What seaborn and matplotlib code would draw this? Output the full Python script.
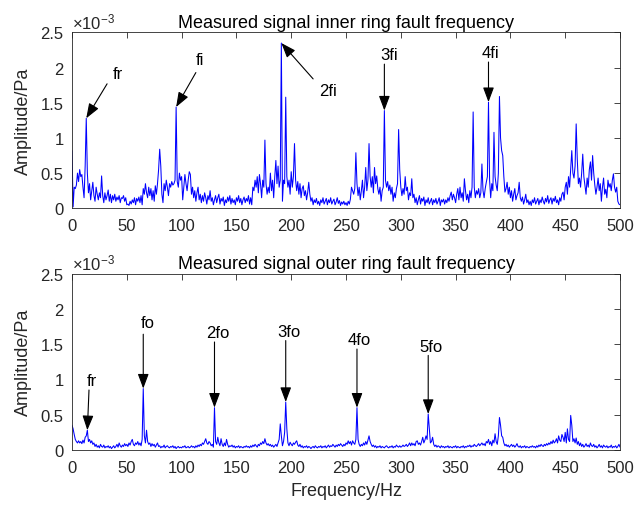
import numpy as np
import pandas as pd
import matplotlib
matplotlib.use("Agg")
import matplotlib.pyplot as plt
from matplotlib.ticker import FuncFormatter, MultipleLocator
import seaborn as sns

# Frequency bins (Hz) of the amplitude spectra
freq = np.arange(0, 501, 1)

# Inner ring fault spectrum, amplitude in 1e-3 Pa (one value per 1 Hz bin)
inner_amp = [
    0.82, 0.02, 0.30, 0.28, 0.33, 0.50, 0.38, 0.55, 0.45, 0.48,
    0.30, 0.15, 0.60, 1.28, 0.50, 0.22, 0.35, 0.12, 0.25, 0.37,
    0.18, 0.10, 0.30, 0.20, 0.12, 0.22, 0.15, 0.46, 0.18, 0.08,
    0.22, 0.12, 0.18, 0.26, 0.10, 0.20, 0.08, 0.18, 0.12, 0.20,
    0.10, 0.16, 0.12, 0.18, 0.08, 0.15, 0.14, 0.18, 0.10, 0.15,
    0.05, 0.06, 0.04, 0.10, 0.06, 0.12, 0.08, 0.15, 0.05, 0.14,
    0.10, 0.16, 0.08, 0.18, 0.05, 0.28, 0.20, 0.35, 0.22, 0.15,
    0.30, 0.18, 0.28, 0.12, 0.25, 0.10, 0.32, 0.20, 0.35, 0.55,
    0.84, 0.60, 0.20, 0.08, 0.35, 0.25, 0.40, 0.30, 0.18, 0.35,
    0.30, 0.38, 0.33, 0.35, 0.40, 1.44, 0.38, 0.30, 0.50, 0.40,
    0.45, 0.12, 0.30, 0.48, 0.35, 0.25, 0.40, 0.52, 0.48, 0.20,
    0.30, 0.15, 0.25, 0.10, 0.22, 0.30, 0.12, 0.20, 0.08, 0.18,
    0.10, 0.22, 0.15, 0.06, 0.18, 0.12, 0.25, 0.10, 0.15, 0.05,
    0.12, 0.18, 0.08, 0.15, 0.20, 0.06, 0.14, 0.10, 0.16, 0.04,
    0.12, 0.08, 0.16, 0.10, 0.18, 0.06, 0.14, 0.08, 0.12, 0.05,
    0.15, 0.10, 0.18, 0.08, 0.14, 0.05, 0.12, 0.16, 0.08, 0.14,
    0.10, 0.18, 0.06, 0.15, 0.05, 0.30, 0.25, 0.40, 0.30, 0.45,
    0.22, 0.48, 0.35, 0.15, 0.40, 0.30, 0.97, 0.35, 0.20, 0.30,
    0.22, 0.50, 0.25, 0.40, 0.15, 0.45, 0.68, 0.35, 0.60, 0.30,
    0.40, 2.35, 0.10, 0.40, 0.35, 1.58, 0.45, 0.30, 0.40, 0.20,
    0.52, 0.30, 0.45, 0.92, 0.40, 0.25, 0.38, 0.20, 0.35, 0.15,
    0.28, 0.32, 0.18, 0.25, 0.12, 0.22, 0.37, 0.20, 0.10, 0.15,
    0.05, 0.12, 0.08, 0.14, 0.06, 0.10, 0.04, 0.12, 0.08, 0.15,
    0.06, 0.10, 0.14, 0.05, 0.12, 0.08, 0.15, 0.06, 0.10, 0.13,
    0.05, 0.09, 0.15, 0.07, 0.11, 0.04, 0.09, 0.06, 0.10, 0.05,
    0.08, 0.04, 0.10, 0.06, 0.13, 0.30, 0.25, 0.20, 0.28, 0.79,
    0.35, 0.18, 0.30, 0.12, 0.25, 0.40, 0.15, 0.30, 0.58, 0.25,
    0.40, 0.92, 0.45, 0.30, 0.45, 0.22, 0.58, 0.35, 0.46, 0.28,
    0.20, 0.30, 0.10, 0.25, 0.30, 1.39, 0.40, 0.30, 0.38, 0.25,
    0.33, 0.20, 0.30, 0.10, 0.22, 0.15, 0.28, 0.35, 1.12, 0.55,
    0.30, 0.18, 0.28, 0.20, 0.45, 0.25, 0.30, 0.12, 0.22, 0.18,
    0.42, 0.15, 0.20, 0.08, 0.15, 0.05, 0.12, 0.18, 0.06, 0.14,
    0.10, 0.16, 0.04, 0.12, 0.08, 0.15, 0.06, 0.10, 0.14, 0.05,
    0.12, 0.08, 0.14, 0.06, 0.10, 0.15, 0.04, 0.12, 0.09, 0.13,
    0.06, 0.12, 0.08, 0.15, 0.10, 0.18, 0.23, 0.12, 0.20, 0.15,
    0.08, 0.20, 0.28, 0.12, 0.30, 0.15, 0.22, 0.10, 0.42, 0.25,
    0.12, 0.20, 0.08, 0.25, 0.15, 0.30, 1.37, 0.30, 0.15, 0.25,
    0.20, 0.28, 0.15, 0.22, 0.63, 0.25, 0.15, 0.28, 0.37, 0.45,
    1.51, 0.40, 0.15, 0.35, 0.25, 1.08, 0.45, 0.33, 0.25, 0.50,
    1.59, 1.00, 0.82, 0.75, 0.45, 0.23, 0.28, 0.37, 0.20, 0.30,
    0.15, 0.25, 0.10, 0.20, 0.28, 0.12, 0.18, 0.22, 0.37, 0.15,
    0.10, 0.16, 0.06, 0.12, 0.20, 0.08, 0.12, 0.05, 0.10, 0.04,
    0.12, 0.08, 0.15, 0.06, 0.10, 0.14, 0.05, 0.12, 0.08, 0.16,
    0.10, 0.06, 0.14, 0.09, 0.18, 0.07, 0.12, 0.15, 0.06, 0.14,
    0.10, 0.17, 0.08, 0.12, 0.05, 0.15, 0.10, 0.20, 0.23, 0.12,
    0.30, 0.37, 0.20, 0.45, 0.30, 0.55, 0.82, 0.50, 0.43, 0.60,
    1.20, 0.70, 0.35, 0.43, 0.30, 0.50, 0.77, 0.45, 0.33, 0.20,
    0.43, 0.30, 0.55, 0.66, 0.40, 0.75, 0.50, 0.33, 0.20, 0.30,
    0.43, 0.25, 0.35, 0.10, 0.30, 0.43, 0.20, 0.27, 0.15, 0.40,
    0.30, 0.35, 0.25, 0.40, 0.49, 0.30, 0.23, 0.30, 0.10, 0.06,
    0.05,
]

# Outer ring fault spectrum, amplitude in 1e-3 Pa
outer_amp = [
    0.35, 0.30, 0.22, 0.15, 0.12, 0.10, 0.13, 0.10, 0.12, 0.09,
    0.14, 0.10, 0.18, 0.20, 0.28, 0.12, 0.15, 0.10, 0.13, 0.08,
    0.10, 0.05, 0.08, 0.04, 0.06, 0.03, 0.08, 0.05, 0.04, 0.07,
    0.03, 0.05, 0.04, 0.06, 0.03, 0.05, 0.02, 0.04, 0.06, 0.03,
    0.05, 0.08, 0.04, 0.10, 0.06, 0.04, 0.07, 0.05, 0.09, 0.06,
    0.08, 0.05, 0.10, 0.07, 0.12, 0.15, 0.08, 0.06, 0.10, 0.08,
    0.12, 0.07, 0.10, 0.06, 0.15, 0.87, 0.20, 0.10, 0.28, 0.12,
    0.08, 0.10, 0.05, 0.09, 0.06, 0.08, 0.04, 0.07, 0.10, 0.05,
    0.06, 0.03, 0.05, 0.04, 0.07, 0.03, 0.05, 0.06, 0.04, 0.03,
    0.05, 0.04, 0.06, 0.03, 0.05, 0.02, 0.04, 0.05, 0.03, 0.04,
    0.03, 0.05, 0.04, 0.06, 0.03, 0.04, 0.05, 0.03, 0.04, 0.06,
    0.04, 0.05, 0.03, 0.06, 0.04, 0.07, 0.05, 0.08, 0.06, 0.10,
    0.08, 0.12, 0.16, 0.10, 0.08, 0.12, 0.10, 0.06, 0.08, 0.04,
    0.60, 0.12, 0.08, 0.18, 0.10, 0.06, 0.16, 0.08, 0.05, 0.10,
    0.06, 0.15, 0.08, 0.04, 0.06, 0.05, 0.07, 0.04, 0.06, 0.03,
    0.05, 0.04, 0.06, 0.03, 0.05, 0.04, 0.03, 0.05, 0.04, 0.06,
    0.04, 0.05, 0.03, 0.06, 0.04, 0.07, 0.05, 0.08, 0.06, 0.04,
    0.08, 0.06, 0.10, 0.08, 0.12, 0.09, 0.16, 0.10, 0.07, 0.09,
    0.06, 0.08, 0.05, 0.07, 0.04, 0.06, 0.08, 0.05, 0.10, 0.15,
    0.37, 0.20, 0.06, 0.12, 0.25, 0.68, 0.30, 0.10, 0.06, 0.11,
    0.08, 0.06, 0.10, 0.08, 0.11, 0.13, 0.07, 0.05, 0.08, 0.04,
    0.06, 0.03, 0.05, 0.04, 0.06, 0.03, 0.05, 0.04, 0.02, 0.04,
    0.05, 0.03, 0.06, 0.04, 0.03, 0.05, 0.04, 0.06, 0.03, 0.05,
    0.04, 0.06, 0.03, 0.05, 0.07, 0.04, 0.06, 0.05, 0.08, 0.06,
    0.04, 0.07, 0.05, 0.08, 0.06, 0.09, 0.07, 0.05, 0.08, 0.06,
    0.10, 0.08, 0.13, 0.09, 0.12, 0.07, 0.13, 0.10, 0.08, 0.15,
    0.60, 0.15, 0.08, 0.05, 0.08, 0.06, 0.10, 0.07, 0.12, 0.08,
    0.14, 0.20, 0.12, 0.08, 0.05, 0.07, 0.04, 0.06, 0.03, 0.05,
    0.04, 0.06, 0.03, 0.05, 0.04, 0.03, 0.05, 0.06, 0.04, 0.03,
    0.05, 0.04, 0.06, 0.03, 0.05, 0.04, 0.07, 0.05, 0.04, 0.06,
    0.04, 0.05, 0.07, 0.05, 0.06, 0.08, 0.05, 0.07, 0.10, 0.06,
    0.10, 0.07, 0.09, 0.06, 0.12, 0.13, 0.08, 0.10, 0.07, 0.12,
    0.18, 0.10, 0.14, 0.20, 0.15, 0.51, 0.30, 0.10, 0.12, 0.18,
    0.08, 0.05, 0.07, 0.04, 0.06, 0.05, 0.03, 0.06, 0.04, 0.05,
    0.03, 0.05, 0.04, 0.06, 0.03, 0.05, 0.04, 0.03, 0.05, 0.04,
    0.06, 0.03, 0.05, 0.04, 0.03, 0.05, 0.04, 0.06, 0.03, 0.05,
    0.04, 0.06, 0.05, 0.07, 0.04, 0.06, 0.05, 0.08, 0.06, 0.05,
    0.07, 0.09, 0.06, 0.08, 0.10, 0.07, 0.09, 0.06, 0.12, 0.10,
    0.15, 0.08, 0.12, 0.06, 0.14, 0.10, 0.23, 0.12, 0.08, 0.20,
    0.46, 0.35, 0.20, 0.18, 0.10, 0.06, 0.08, 0.05, 0.07, 0.04,
    0.06, 0.08, 0.05, 0.07, 0.04, 0.06, 0.09, 0.05, 0.04, 0.06,
    0.03, 0.05, 0.04, 0.06, 0.03, 0.05, 0.04, 0.03, 0.05, 0.04,
    0.06, 0.04, 0.05, 0.03, 0.06, 0.04, 0.07, 0.05, 0.08, 0.06,
    0.05, 0.08, 0.06, 0.09, 0.07, 0.10, 0.08, 0.12, 0.09, 0.14,
    0.10, 0.12, 0.16, 0.10, 0.20, 0.14, 0.12, 0.22, 0.18, 0.12,
    0.25, 0.10, 0.30, 0.15, 0.12, 0.49, 0.35, 0.12, 0.16, 0.10,
    0.17, 0.08, 0.12, 0.06, 0.10, 0.05, 0.08, 0.04, 0.06, 0.09,
    0.05, 0.07, 0.04, 0.10, 0.06, 0.05, 0.08, 0.04, 0.06, 0.03,
    0.05, 0.08, 0.04, 0.06, 0.03, 0.07, 0.05, 0.04, 0.06, 0.03,
    0.05, 0.04, 0.07, 0.03, 0.05, 0.04, 0.06, 0.03, 0.05, 0.08,
    0.04,
]

# Annotated characteristic frequencies
inner_marks = ["fr", "fi", "2fi", "3fi", "4fi"]
inner_mark_freq = [13, 95, 191, 285, 380]
inner_text_pos = [(42, 1.91), (117, 2.11), (234, 1.68), (289, 2.18), (382, 2.21)]
inner_arrow_tail = [(32, 1.77), (113, 1.93), (220, 1.84), (285, 2.05), (380, 2.08)]

outer_marks = ["fr", "fo", "2fo", "3fo", "4fo", "5fo"]
outer_mark_freq = [14, 65, 130, 195, 260, 325]
outer_text_pos = [(18, 0.99), (69, 1.80), (133, 1.66), (198, 1.68), (262, 1.57), (328, 1.47)]
outer_arrow_tail = [(15.5, 0.85), (65, 1.64), (130, 1.53), (195, 1.55), (260, 1.43), (325, 1.34)]

titles = ["Measured signal inner ring fault frequency",
          "Measured signal outer ring fault frequency"]

sns.set_theme(style="white")
plt.rcParams["font.family"] = ["Liberation Sans", "DejaVu Sans"]
plt.rcParams["mathtext.fontset"] = "custom"
plt.rcParams["mathtext.rm"] = "Liberation Sans"
plt.rcParams["mathtext.it"] = "Liberation Sans:italic"

fig = plt.figure(figsize=(6.35, 5.06), dpi=100)
ax_top = fig.add_axes([0.1134, 0.5864, 0.8630, 0.3474])
ax_bot = fig.add_axes([0.1134, 0.1087, 0.8630, 0.3488])

axis_col = "#262626"


def draw_spectrum(ax, amp, marks, mark_freq, text_pos, arrow_tail, title):
    df = pd.DataFrame({"f": freq, "a": np.asarray(amp) * 1e-3})
    sns.lineplot(data=df, x="f", y="a", ax=ax, color="#0000ff", linewidth=0.75)
    ax.set_xlim(0, 500)
    ax.set_ylim(0, 2.5e-3)
    ax.xaxis.set_major_locator(MultipleLocator(50))
    ax.yaxis.set_major_locator(MultipleLocator(0.5e-3))
    ax.yaxis.set_major_formatter(FuncFormatter(lambda v, p: f"{v * 1e3:g}"))
    ax.tick_params(direction="in", top=True, right=True, length=4, width=0.6,
                   color=axis_col, labelcolor=axis_col, labelsize=12)
    ax.tick_params(axis="x", pad=7)
    ax.tick_params(axis="y", pad=6)
    for s in ax.spines.values():
        s.set_color(axis_col)
        s.set_linewidth(0.6)
    ax.set_xlabel("")
    ax.set_ylabel("Amplitude/Pa", fontsize=13, color=axis_col, labelpad=6)
    ax.set_title(title, fontsize=13, color="black", pad=4)
    ax.text(0.0, 1.008, r"$\times10^{-3}$", transform=ax.transAxes,
            fontsize=12, color=axis_col, ha="left", va="bottom")
    for lab, f0, (tx, ty), (ax0, ay0) in zip(marks, mark_freq, text_pos, arrow_tail):
        peak = amp[f0] * 1e-3
        ax.annotate("", xy=(f0, peak), xytext=(ax0, ay0 * 1e-3),
                    arrowprops=dict(arrowstyle="-|>,head_length=0.75,head_width=0.28",
                                    color="black", lw=0.8, shrinkA=0, shrinkB=0))
        ax.text(tx, ty * 1e-3, lab, ha="center", va="center",
                fontsize=12, color="black")


draw_spectrum(ax_top, inner_amp, inner_marks, inner_mark_freq,
              inner_text_pos, inner_arrow_tail, titles[0])
draw_spectrum(ax_bot, outer_amp, outer_marks, outer_mark_freq,
              outer_text_pos, outer_arrow_tail, titles[1])
ax_bot.set_xlabel("Frequency/Hz", fontsize=13, color=axis_col, labelpad=5)

fig.savefig("out.png", dpi=100)
